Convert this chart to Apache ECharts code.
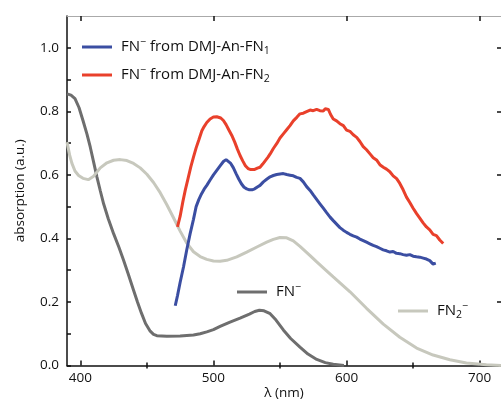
<!DOCTYPE html>
<html>
<head>
<meta charset="utf-8">
<script src="https://cdn.jsdelivr.net/npm/echarts@6/dist/echarts.min.js"></script>
<style>
  html, body { margin: 0; padding: 0; background: #fff; }
  #chart { width: 501px; height: 401px; }
</style>
</head>
<body>
<div id="chart"></div>
<script>
// Absorption spectra: wavelength (nm) and absorption (a.u.) pairs
const fnMinus = [
  [390, 0.855], [393, 0.851], [396, 0.840], [399, 0.812], [402, 0.771], [405, 0.728],
  [407.5, 0.687], [410, 0.640], [412.5, 0.593], [415, 0.550], [417.5, 0.509], [421, 0.462],
  [425, 0.415], [429, 0.372], [432.5, 0.331], [436, 0.288], [440, 0.237], [443, 0.199],
  [446, 0.164], [449, 0.132], [452.5, 0.108], [455, 0.098], [457.5, 0.094], [465, 0.092],
  [475, 0.093], [485, 0.096], [490, 0.100], [495, 0.106], [500, 0.113], [505, 0.123],
  [512, 0.136], [520, 0.149], [527, 0.162], [531, 0.170], [534.5, 0.174], [538, 0.172],
  [542.6, 0.163], [547, 0.143], [552.5, 0.112], [558, 0.085], [565, 0.058], [571, 0.036],
  [577.6, 0.019], [584, 0.009], [590, 0.004], [598, 0.000]
];

const fn2Minus = [
  [390, 0.703], [392, 0.662], [393.7, 0.636], [396, 0.612], [398.7, 0.598], [402, 0.589],
  [406, 0.585], [410, 0.596], [415, 0.622], [420, 0.638], [425, 0.646], [430, 0.648],
  [435, 0.645], [440, 0.636], [445, 0.622], [450, 0.602], [455, 0.576], [460, 0.544],
  [465, 0.506], [470, 0.465], [475, 0.423], [480, 0.385], [485, 0.358], [490, 0.343],
  [495, 0.334], [500, 0.329], [505, 0.328], [510, 0.331], [517.5, 0.342], [525, 0.357],
  [532.6, 0.373], [540, 0.388], [545, 0.397], [550, 0.403], [555, 0.402], [560, 0.392],
  [565, 0.375], [572.6, 0.346], [577.6, 0.326], [585, 0.298], [590, 0.279], [602.6, 0.232],
  [615, 0.180], [627.6, 0.130], [640, 0.089], [652.6, 0.055], [665, 0.033], [677.6, 0.018],
  [690, 0.008], [705, 0.002], [716, 0.000]
];

const fromFN1 = [
  [471.3, 0.188], [473, 0.220], [475, 0.262], [477.5, 0.310], [480, 0.365], [482.5, 0.415],
  [485, 0.460], [487, 0.500], [489, 0.522], [491, 0.540], [493, 0.555], [495, 0.567],
  [497.5, 0.584], [500, 0.600], [502.5, 0.614], [505, 0.628], [507.5, 0.642], [509.5, 0.648],
  [511, 0.645], [513, 0.636], [515, 0.622], [517, 0.604], [519, 0.587], [521, 0.572],
  [523, 0.561], [525, 0.556], [527, 0.553], [529, 0.553], [531, 0.556], [533, 0.562],
  [535, 0.567], [537.5, 0.578], [540, 0.586], [542.6, 0.594], [545, 0.598], [547.5, 0.601],
  [550, 0.603], [552.5, 0.604], [555, 0.601], [557.5, 0.599], [560, 0.597], [562.5, 0.592],
  [565, 0.589], [567.5, 0.578], [570, 0.563], [572.6, 0.551], [575, 0.537], [577.5, 0.523],
  [580, 0.509], [582.5, 0.495], [585, 0.481], [587.6, 0.467], [590, 0.456], [592.5, 0.445],
  [595, 0.434], [597.5, 0.426], [600, 0.419], [602.5, 0.413], [605, 0.408], [607.6, 0.404],
  [610, 0.398], [612.5, 0.393], [615, 0.388], [617.5, 0.383], [620, 0.378], [622.5, 0.374],
  [625, 0.369], [627.5, 0.364], [630, 0.361], [632.6, 0.357], [635, 0.359], [637.5, 0.353],
  [640, 0.352], [642.5, 0.349], [645, 0.347], [647.5, 0.349], [650, 0.344], [652.5, 0.342],
  [655, 0.341], [657.6, 0.338], [660, 0.335], [662.5, 0.330], [665, 0.319], [667, 0.322]
];

const fromFN2 = [
  [473, 0.436], [475, 0.470], [477, 0.515], [478.8, 0.551], [481, 0.590], [483, 0.625],
  [485, 0.656], [487, 0.685], [489, 0.710], [491.3, 0.739], [493, 0.752], [495, 0.765],
  [497.5, 0.776], [500, 0.782], [502.5, 0.783], [504, 0.784], [505.5, 0.779], [507.5, 0.771],
  [509.5, 0.758], [511.5, 0.742], [513.8, 0.724], [516, 0.703], [518, 0.681], [520, 0.661],
  [522, 0.644], [524, 0.629], [526, 0.620], [527.6, 0.617], [529, 0.618], [531, 0.617],
  [533, 0.621], [535, 0.624], [537, 0.634], [539, 0.645], [541, 0.656], [542.6, 0.666],
  [545, 0.683], [547.5, 0.698], [550, 0.716], [552.5, 0.729], [555, 0.742], [557.5, 0.755],
  [560, 0.770], [562.6, 0.781], [565, 0.792], [567.5, 0.794], [570, 0.799], [572.6, 0.804],
  [575, 0.802], [577.5, 0.806], [580, 0.802], [582.5, 0.801], [584, 0.808], [586.3, 0.806],
  [588, 0.790], [590, 0.776], [592.5, 0.770], [595, 0.761], [597.6, 0.755], [600, 0.741],
  [602.5, 0.737], [605, 0.726], [607.6, 0.718], [610, 0.705], [612.5, 0.689], [615, 0.679],
  [617.6, 0.666], [620, 0.654], [622.5, 0.647], [625, 0.632], [627.6, 0.624], [630, 0.618],
  [632.5, 0.610], [635, 0.597], [637.6, 0.588], [640, 0.573], [642.5, 0.553], [645, 0.530],
  [647.5, 0.513], [650, 0.495], [652.6, 0.478], [655, 0.464], [657.5, 0.449], [660, 0.436],
  [662.5, 0.427], [665, 0.413], [667.5, 0.409], [670, 0.395], [672.6, 0.384]
];

// Tick positions
const xLabelTicks = [400, 500, 600, 700];
const xMinorTicks = [450, 550, 650];
const yLabelTicks = [0, 0.2, 0.4, 0.6, 0.8, 1.0];
const yAllTicks = [0, 0.1, 0.2, 0.3, 0.4, 0.5, 0.6, 0.7, 0.8, 0.9, 1.0];

const FONT = '"Open Sans", sans-serif';
const C_BLUE = '#3b4ea2';
const C_RED = '#e9402b';
const C_DARK = '#6e6e6e';
const C_LIGHT = '#c7c8bd';

const NAME_FN1 = 'FN⁻ from DMJ-An-FN₁';
const NAME_FN2 = 'FN⁻ from DMJ-An-FN₂';
const NAME_FN = 'FN⁻';
const NAME_FN2M = 'FN₂⁻';

const richName = {
  [NAME_FN1]: 'FN{sup|−} from DMJ-An-FN{sub|1}',
  [NAME_FN2]: 'FN{sup|−} from DMJ-An-FN{sub|2}',
  [NAME_FN]: 'FN{sup|−}',
  [NAME_FN2M]: 'FN{sub|2}{sup|−}'
};

const richStyle = {
  sup: { fontSize: 10.5, fontFamily: FONT, color: '#111', verticalAlign: 'top', lineHeight: 20, padding: [0, 0, 7, 0] },
  sub: { fontSize: 10.5, fontFamily: FONT, color: '#111', verticalAlign: 'bottom', lineHeight: 20, padding: [6, 0, 0, 0] }
};

function legendBlock(names, left, top, gap) {
  return {
    data: names,
    orient: 'vertical',
    left: left,
    top: top,
    itemGap: gap,
    itemWidth: 30,
    itemHeight: 3,
    icon: 'rect',
    padding: 0,
    selectedMode: false,
    formatter: function (n) { return richName[n]; },
    textStyle: {
      fontFamily: FONT,
      fontSize: 15,
      color: '#111',
      lineHeight: 20,
      padding: [0, 0, 0, 4],
      rich: richStyle
    }
  };
}

const baseX = {
  type: 'value', min: 390, max: 716, gridIndex: 0,
  splitLine: { show: false }
};

const option = {
  backgroundColor: '#fff',
  animation: false,
  grid: { left: 67, right: 0, top: 16, bottom: 35.5, containLabel: false, outerBoundsMode: 'none' },
  legend: [
    legendBlock([NAME_FN1, NAME_FN2], 82, 37, 8),
    legendBlock([NAME_FN], 237, 282, 0),
    legendBlock([NAME_FN2M], 398, 301, 0)
  ],
  xAxis: [
    Object.assign({}, baseX, {
      position: 'bottom',
      name: 'λ (nm)',
      nameLocation: 'middle',
      nameGap: 21,
      nameMoveOverlap: false,
      nameTextStyle: { fontFamily: FONT, fontSize: 13.5, color: '#111' },
      axisLine: { onZero: false, lineStyle: { color: '#111', width: 1.5 } },
      axisTick: { inside: true, length: 5, customValues: xLabelTicks, lineStyle: { color: '#111', width: 1.5 } },
      axisLabel: { customValues: xLabelTicks, margin: 6, fontFamily: FONT, fontSize: 13.5, color: '#111' }
    }),
    Object.assign({}, baseX, {
      position: 'bottom',
      axisLine: { show: false },
      axisTick: { inside: true, length: 3, customValues: xMinorTicks, lineStyle: { color: '#111', width: 1.5 } },
      axisLabel: { show: false }
    }),
    Object.assign({}, baseX, {
      position: 'top',
      axisLine: { onZero: false, lineStyle: { color: '#aaa', width: 1 } },
      axisTick: { inside: true, length: 5, customValues: xLabelTicks, lineStyle: { color: '#111', width: 1.5 } },
      axisLabel: { show: false }
    }),
    Object.assign({}, baseX, {
      position: 'top',
      axisLine: { show: false },
      axisTick: { inside: true, length: 3, customValues: xMinorTicks, lineStyle: { color: '#111', width: 1.5 } },
      axisLabel: { show: false }
    })
  ],
  yAxis: [
    {
      type: 'value', min: 0, max: 1.1, position: 'left',
      name: 'absorption (a.u.)',
      nameLocation: 'middle',
      nameGap: 40,
      nameRotate: 90,
      nameMoveOverlap: false,
      nameTextStyle: { fontFamily: FONT, fontSize: 13.5, color: '#111' },
      splitLine: { show: false },
      axisLine: { onZero: false, lineStyle: { color: '#111', width: 1.5 } },
      axisTick: { inside: true, length: 4, customValues: yAllTicks, lineStyle: { color: '#111', width: 1.5 } },
      axisLabel: {
        customValues: yLabelTicks, margin: 8, fontFamily: FONT, fontSize: 13.5, color: '#111',
        formatter: function (v) { return v.toFixed(1); }
      }
    },
    {
      type: 'value', min: 0, max: 1.1, position: 'right',
      splitLine: { show: false },
      axisLine: { show: false },
      axisTick: { inside: true, length: 4, customValues: yLabelTicks, lineStyle: { color: '#111', width: 1.5 } },
      axisLabel: { show: false }
    }
  ],
  series: [
    { name: NAME_FN, type: 'line', data: fnMinus, showSymbol: false, smooth: false,
      lineStyle: { color: C_DARK, width: 3 }, itemStyle: { color: C_DARK } },
    { name: NAME_FN2M, type: 'line', data: fn2Minus, showSymbol: false, smooth: false,
      lineStyle: { color: C_LIGHT, width: 3 }, itemStyle: { color: C_LIGHT } },
    { name: NAME_FN1, type: 'line', data: fromFN1, showSymbol: false,
      lineStyle: { color: C_BLUE, width: 3 }, itemStyle: { color: C_BLUE } },
    { name: NAME_FN2, type: 'line', data: fromFN2, showSymbol: false,
      lineStyle: { color: C_RED, width: 3 }, itemStyle: { color: C_RED } }
  ]
};

const chart = echarts.init(document.getElementById('chart'), null, { renderer: 'canvas' });
chart.setOption(option);
</script>
</body>
</html>
